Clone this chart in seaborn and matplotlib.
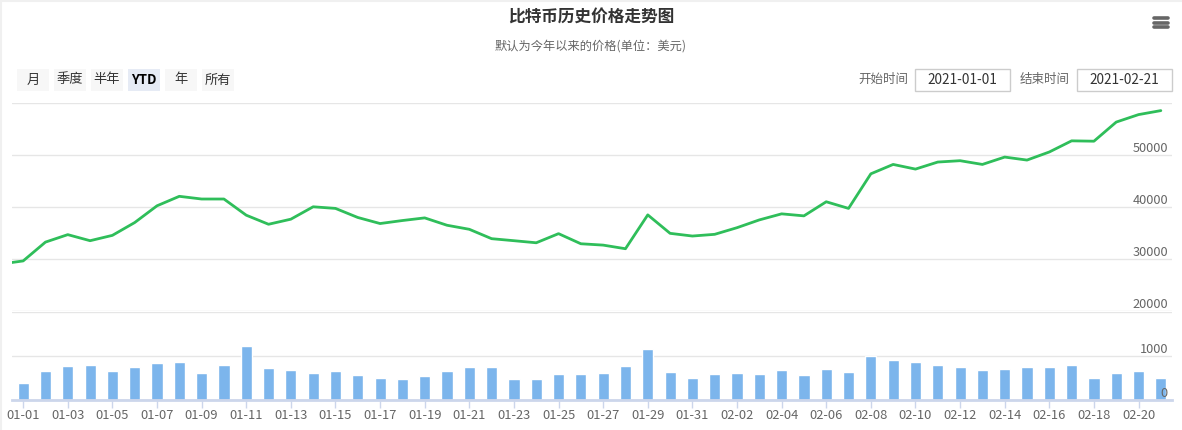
import numpy as np
import pandas as pd
import seaborn as sns
import matplotlib
matplotlib.use('Agg')
from matplotlib import pyplot as plt
from matplotlib.patches import Rectangle

# data
dates = ['12-31'] + ['01-%02d' % d for d in range(1, 32)] + ['02-%02d' % d for d in range(1, 22)]

price = [29000,
         29600, 33230, 34670, 33500, 34530, 37000, 40230, 42060, 41540, 41540,
         38420, 36670, 37650, 40040, 39730, 37980, 36810, 37390, 37900, 36480,
         35700, 33890, 33500, 33100, 34860, 32910, 32650, 31950, 38480, 34920,
         34400,
         34730, 36010, 37510, 38680, 38290, 41010, 39730, 46400, 48210, 47310,
         48670, 48930, 48210, 49630, 49050, 50610, 52760, 52690, 56380, 57820,
         58590]

volume = [382, 656, 771, 794, 656, 748, 840, 863, 611, 794,
          1229, 725, 679, 611, 656, 565, 496, 473, 542, 656,
          748, 748, 473, 473, 588, 588, 611, 771, 1160, 634,
          496,
          588, 611, 588, 679, 565, 702, 634, 1000, 908, 863,
          794, 748, 679, 702, 748, 748, 794, 496, 611, 656,
          496]

price_ticks = [20000, 30000, 40000, 50000, 60000]
price_labels = ['20000', '30000', '40000', '50000', '']
vol_ticks = [0, 1000, 2000]
vol_labels = ['0', '1000', '']

buttons = ['月', '季度', '半年', 'YTD', '年', '所有']
selected = 'YTD'
start_date = '2021-01-01'
end_date = '2021-02-21'
title = '比特币历史价格走势图'
subtitle = '默认为今年以来的价格(单位：美元)'

sns.set_style('white')
plt.rcParams['font.family'] = ['Noto Sans CJK SC', 'DejaVu Sans']

W, H = 1182, 430
fig = plt.figure(figsize=(W / 100, H / 100), dpi=100)


def fx(x):
    return x / W


def fy(y):
    return 1 - y / H


grid_c = '#e6e6e6'
text_c = '#666666'

# price pane
ax = fig.add_axes([fx(12), fy(310.7), fx(1160), (310.7 - 103.3) / H])
pos = np.arange(-1, len(dates) - 1)
df_p = pd.DataFrame({'pos': pos, 'price': price})
sns.lineplot(data=df_p, x='pos', y='price', ax=ax, color='#2fbe5a', linewidth=2)
ax.set_xlim(-0.5, len(volume) - 0.5)
ax.set_ylim(20000, 60000)
ax.set_yticks(price_ticks)
ax.set_yticklabels([])
ax.tick_params(left=False, bottom=False, labelbottom=False)
ax.grid(axis='y', color=grid_c, linewidth=1)
for s in ax.spines.values():
    s.set_visible(False)
ax.set_xlabel('')
ax.set_ylabel('')
tr = ax.get_yaxis_transform()
for v, lab in zip(price_ticks, price_labels):
    ax.text(0.9965, v, lab, transform=tr, ha='right', va='bottom',
            fontsize=9.2, color=text_c)

# volume pane
ax2 = fig.add_axes([fx(12), fy(399.7), fx(1160), (399.7 - 312.3) / H])
df_v = pd.DataFrame({'date': dates[1:], 'volume': volume})
sns.barplot(data=df_v, x='date', y='volume', ax=ax2, color='#7cb5ec',
            saturation=1, width=0.5)
ax2.set_xlim(-0.5, len(volume) - 0.5)
ax2.set_ylim(0, 2000)
ax2.set_yticks(vol_ticks)
ax2.set_yticklabels([])
ax2.grid(axis='y', color=grid_c, linewidth=1)
ax2.set_axisbelow(True)
for k, s in ax2.spines.items():
    s.set_visible(k == 'bottom')
ax2.spines['bottom'].set_color('#ccd6eb')
ax2.spines['bottom'].set_linewidth(2)
ax2.set_xticks(range(0, len(volume), 2))
ax2.set_xticklabels(dates[1::2], fontsize=9.3, color=text_c)
ax2.tick_params(axis='x', bottom=True, length=6, width=1, color='#ccd6eb', pad=0.5)
ax2.tick_params(axis='y', left=False)
ax2.set_xlabel('')
ax2.set_ylabel('')
tr2 = ax2.get_yaxis_transform()
for v, lab in zip(vol_ticks, vol_labels):
    ax2.text(0.9965, v, lab, transform=tr2, ha='right', va='bottom',
             fontsize=9.2, color=text_c)

# title and subtitle
fig.text(0.5, fy(18), title, ha='center', va='center', fontsize=12,
         fontweight='bold', color='#333333')
fig.text(0.5, fy(46), subtitle, ha='center', va='center', fontsize=8.8,
         color=text_c)

# range selector buttons
bx = 17
for b in buttons:
    on = b == selected
    fig.add_artist(Rectangle((fx(bx), fy(91)), fx(32), 22 / H,
                             transform=fig.transFigure,
                             facecolor='#e6ebf5' if on else '#f7f7f7',
                             edgecolor='none'))
    fig.text(fx(bx + 16), fy(80), b, ha='center', va='center', fontsize=9.5,
             color='#000000' if on else '#333333',
             fontweight='bold' if on else 'normal')
    bx += 37

# date inputs
for lab, val, lx, bx0 in [('开始时间', start_date, 883, 915),
                          ('结束时间', end_date, 1045, 1077)]:
    fig.text(fx(lx), fy(79), lab, ha='center', va='center', fontsize=9,
             color=text_c)
    fig.add_artist(Rectangle((fx(bx0), fy(90.5)), fx(95), 21.5 / H,
                             transform=fig.transFigure, facecolor='white',
                             edgecolor='#cccccc', linewidth=1))
    fig.text(fx(bx0 + 47.5), fy(79.5), val, ha='center', va='center',
             fontsize=9.8, color='#333333')

# export menu icon
for yy in [18.3, 22.7, 27.3]:
    fig.add_artist(plt.Line2D([fx(1154), fx(1168)], [fy(yy), fy(yy)],
                              transform=fig.transFigure, color=text_c,
                              linewidth=2.6, solid_capstyle='round'))

# light frame at top and left edge
fig.add_artist(plt.Line2D([0, 1], [fy(0.5), fy(0.5)], transform=fig.transFigure,
                          color='#f0f0f0', linewidth=1.5))
fig.add_artist(plt.Line2D([fx(1), fx(1)], [0, 1], transform=fig.transFigure,
                          color='#f0f0f0', linewidth=1.5))

fig.savefig('out.png', dpi=100)
